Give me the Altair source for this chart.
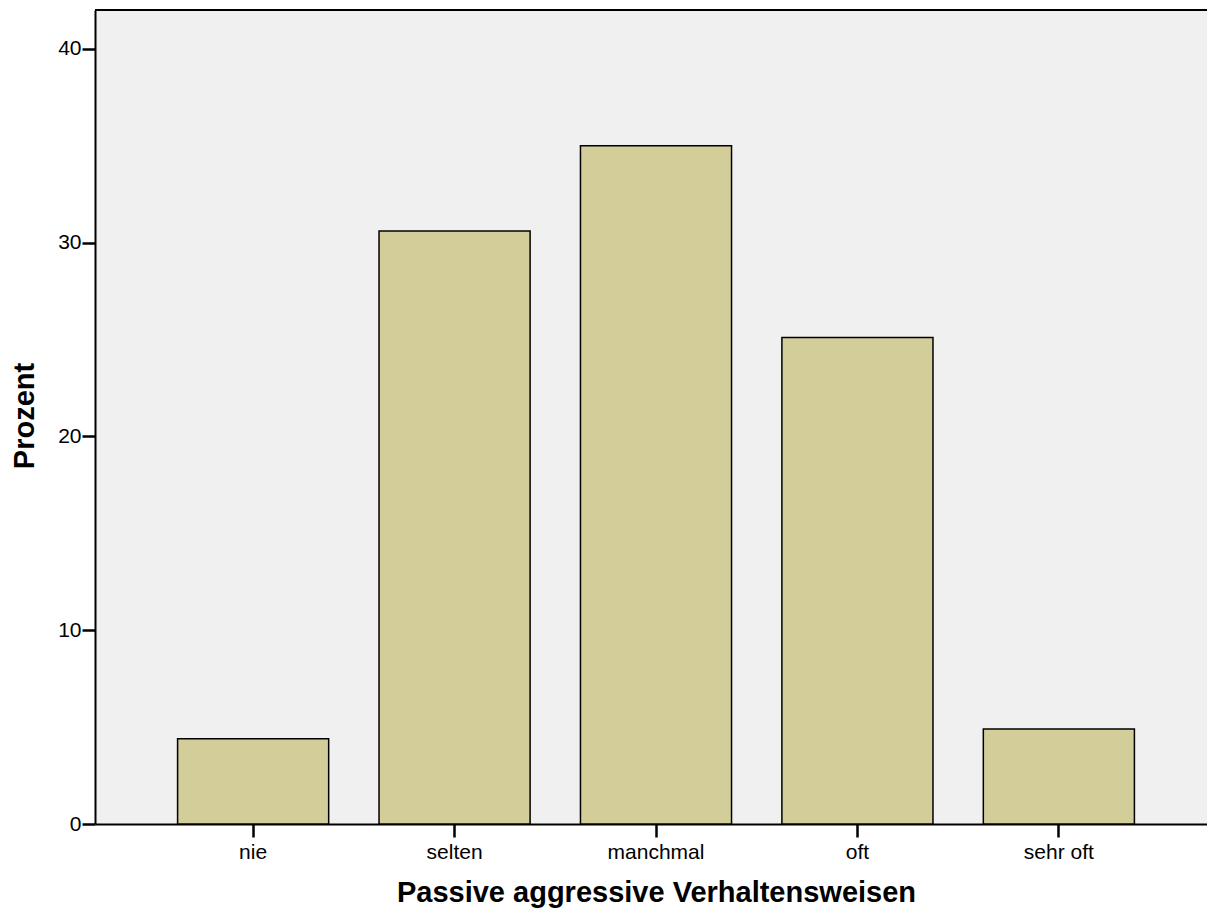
import altair as alt
import pandas as pd

categories = ["nie", "selten", "manchmal", "oft", "sehr oft"]
percent = [4.4, 30.6, 35.0, 25.1, 4.9]

df = pd.DataFrame({"cat": categories, "pct": percent})

W = 1112      # visible plot width (svg ends at the window edge)
XR = 1122     # full band range, the right part runs off the picture as in the reference
H = 814

bars = alt.Chart(df).mark_bar(
    fill="#D3CE99", stroke="#000000", strokeWidth=1.5
).encode(
    x=alt.X("cat:N", sort=categories,
            scale=alt.Scale(paddingInner=0.25, paddingOuter=0.41, range=[0, XR]),
            axis=alt.Axis(title="Passive aggressive Verhaltensweisen", labelAngle=0,
                          labelFontSize=21, labelFont="Liberation Sans", labelColor="#000000",
                          labelPadding=4, tickSize=13, tickWidth=2.5, tickColor="#000000",
                          domainColor="#000000", domainWidth=2,
                          titleFont="Liberation Sans", titleFontSize=29, titleFontWeight="bold",
                          titleColor="#000000", titleX=XR / 2, titleY=68,
                          titleBaseline="middle", titleAlign="center")),
    y=alt.Y("pct:Q", scale=alt.Scale(domain=[0, 42], nice=False, zero=True),
            axis=alt.Axis(title="Prozent", values=[0, 10, 20, 30, 40], grid=False,
                          labelFontSize=21, labelFont="Liberation Sans", labelColor="#000000",
                          labelPadding=1, tickSize=13, tickWidth=2.5, tickColor="#000000",
                          domainColor="#000000", domainWidth=2,
                          titleFont="Liberation Sans", titleFontSize=29, titleFontWeight="bold",
                          titleColor="#000000", titleAngle=-90, titleX=-71, titleY=405.5,
                          titleBaseline="middle", titleAlign="center")),
)

top_border = alt.Chart(pd.DataFrame({"k": [0]})).mark_rule(
    color="#000000", strokeWidth=2
).encode(x=alt.value(0), x2=alt.value(W), y=alt.value(0))

chart = alt.layer(bars, top_border).properties(
    width=W, height=H,
    autosize=alt.AutoSizeParams(type="none"),
    padding={"left": 87, "top": 2, "right": 0, "bottom": 84},
).configure_view(
    fill="#F0F0F0", stroke=None
)

chart.save("out.html", embed_options={"renderer": "svg", "actions": False})
